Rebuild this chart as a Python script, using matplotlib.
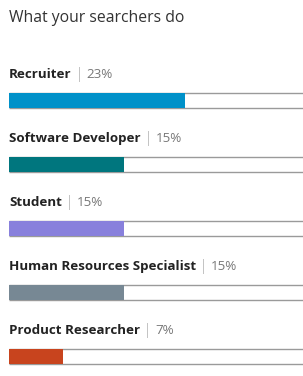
import matplotlib
matplotlib.use("Agg")
import matplotlib.pyplot as plt

# data
roles = ["Recruiter", "Software Developer", "Student",
         "Human Resources Specialist", "Product Researcher"]
shares = [23, 15, 15, 15, 7]
colors = ["#0091c9", "#00767e", "#8880dc", "#778894", "#c8441e"]
title = "What your searchers do"

plt.rcParams['font.family'] = ['Open Sans', 'DejaVu Sans']

W, H = 303, 376
fig = plt.figure(figsize=(W / 100, H / 100), dpi=100)
left = 9 / W
ax = fig.add_axes([left, 0, 1 - left, 1])

# pixel layout: first bar centre at 100.5 px, 64 px pitch
px_per_pct = 7.65
ax.set_xlim(0, (W - 9) / px_per_pct)
ax.set_ylim((H - 100.5) / 64, -100.5 / 64)
ax.axis('off')

bh = 15 / 64
for i, (r, v, c) in enumerate(zip(roles, shares, colors)):
    ax.hlines([i - bh / 2, i + bh / 2], 0, 100, color="#9a9a9a", lw=1.0, zorder=1)
    ax.barh(i, v, height=bh, color=c, zorder=2, align='center')
    t = ax.text(0, i - 0.41, r, fontsize=9.6, fontweight='bold',
                color="#222222", va='center', ha='left')
    p = ax.annotate(" | ", xy=(1, 0.5), xycoords=t, va='center', ha='left',
                    fontsize=10, color="#c4c4c4")
    ax.annotate(f"{v}%", xy=(1, 0.5), xycoords=p, va='center', ha='left',
                fontsize=9.6, color="#777777")

fig.text(left, 1 - 18 / H, title, fontsize=11.3, color="#333333",
         va='center', ha='left')

fig.savefig("out.png", dpi=100, facecolor="white")
